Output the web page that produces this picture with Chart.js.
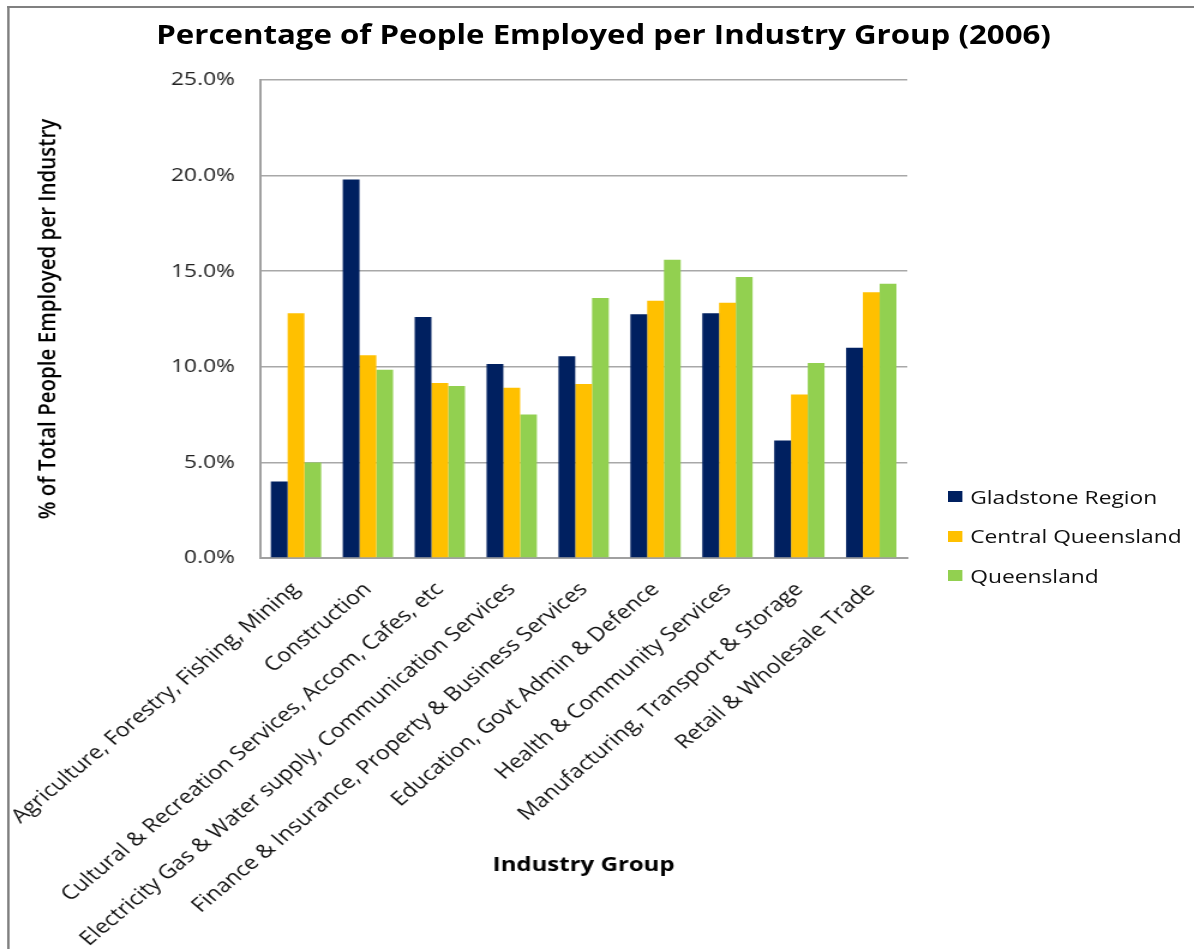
<!DOCTYPE html>
<html>
<head>
<meta charset="utf-8">
<title>Percentage of People Employed per Industry Group (2006)</title>
<script src="https://cdn.jsdelivr.net/npm/chart.js@4/dist/chart.umd.min.js"></script>
<style>
  body { margin: 0; background: #fff; }
  #page { width: 1194px; height: 949px; overflow: hidden; position: relative; }
  /* the original picture is a chart stretched sideways, so draw narrow and scale */
  #wrap { position: absolute; left: 0; top: 0; width: 995px; height: 949px;
          transform: scaleX(1.2); transform-origin: 0 0; }
  #frame { position: absolute; left: 6px; top: 6px; right: -10px; bottom: -10px;
           border-top: 2.5px solid #808080; border-left: 2.5px solid #808080; }
  #chart { position: absolute; left: 0; top: 0; }
  #title { position: absolute; left: 0; width: 1006px; top: 18px; text-align: center;
           font-family: "Open Sans", sans-serif; font-weight: bold; font-size: 26px;
           line-height: 32px; color: #000; white-space: nowrap; }
  #legend { position: absolute; left: 790px; top: 477px; font-family: "Open Sans", sans-serif;
            font-size: 19px; color: #111; }
  #legend div { height: 39.5px; display: flex; align-items: center; white-space: nowrap; }
  #legend span.box { display: inline-block; width: 11.5px; height: 11px; margin-right: 7px; }
</style>
</head>
<body>
<div id="page">
<div id="wrap">
  <div id="frame"></div>
  <canvas id="chart" width="995" height="949"></canvas>
  <div id="title">Percentage of People Employed per Industry Group (2006)</div>
  <div id="legend"></div>
</div>
</div>
<script>
// industry groups, percent of people employed (2006)
const industries = [
  "Agriculture, Forestry, Fishing, Mining",
  "Construction",
  "Cultural & Recreation Services, Accom, Cafes, etc",
  "Electricity Gas & Water supply, Communication Services",
  "Finance & Insurance, Property & Business Services",
  "Education, Govt Admin & Defence",
  "Health & Community Services",
  "Manufacturing, Transport & Storage",
  "Retail & Wholesale Trade"
];
const gladstone = [4.0, 19.8, 12.6, 10.15, 10.55, 12.75, 12.8, 6.15, 11.0];
const centralQld = [12.8, 10.6, 9.15, 8.9, 9.1, 13.45, 13.35, 8.55, 13.9];
const queensland = [5.0, 9.85, 9.0, 7.5, 13.6, 15.6, 14.7, 10.2, 14.35];

const seriesNames = ["Gladstone Region", "Central Queensland", "Queensland"];
const seriesColors = ["#002060", "#FFC000", "#92D050"];
const yTicks = [0, 5, 10, 15, 20, 25];

const font = "'Open Sans', sans-serif";

const datasets = [gladstone, centralQld, queensland].map((vals, i) => ({
  label: seriesNames[i],
  data: vals,
  backgroundColor: seriesColors[i],
  categoryPercentage: 0.7,
  barPercentage: 1.0
}));

new Chart(document.getElementById("chart"), {
  type: "bar",
  data: { labels: industries, datasets: datasets },
  options: {
    responsive: false,
    animation: false,
    layout: { padding: { left: 16, right: 239, top: 80, bottom: 2 } },
    plugins: {
      legend: { display: false },
      tooltip: { enabled: false }
    },
    scales: {
      x: {
        grid: { display: false },
        border: { display: true, color: "#a0a0a0", width: 2 },
        ticks: {
          color: "#111",
          font: { family: font, size: 19.5 },
          minRotation: 45,
          maxRotation: 45,
          autoSkip: false,
          padding: 12
        },
        title: {
          display: true,
          text: "Industry Group",
          color: "#000",
          font: { family: font, size: 20, weight: "bold" },
          padding: { top: 0, bottom: 70 }
        },
        afterFit(scale) {
          scale.height = 949 - 558 - 2;
          scale.paddingLeft = 0;
          scale.paddingRight = 0;
        }
      },
      y: {
        min: 0,
        max: 25,
        afterBuildTicks(scale) {
          scale.ticks = yTicks.map(v => ({ value: v }));
        },
        grid: { color: "#a8a8a8", lineWidth: 1.5, drawTicks: false },
        border: { display: true, color: "#a0a0a0", width: 2 },
        ticks: {
          color: "#222",
          font: { family: font, size: 19 },
          padding: 21,
          callback: v => v.toFixed(1) + "%"
        },
        title: {
          display: true,
          text: "% of Total People Employed per Industry",
          color: "#000",
          font: { family: font, size: 20.5, weight: 600 },
          padding: { top: 12, bottom: 0 }
        },
        afterFit(scale) {
          scale.width = 216.7 - 16;
        }
      }
    }
  }
});

// legend as html text
const legend = document.getElementById("legend");
seriesNames.forEach((name, i) => {
  const row = document.createElement("div");
  const box = document.createElement("span");
  box.className = "box";
  box.style.background = seriesColors[i];
  row.appendChild(box);
  row.appendChild(document.createTextNode(name));
  legend.appendChild(row);
});
</script>
</body>
</html>
